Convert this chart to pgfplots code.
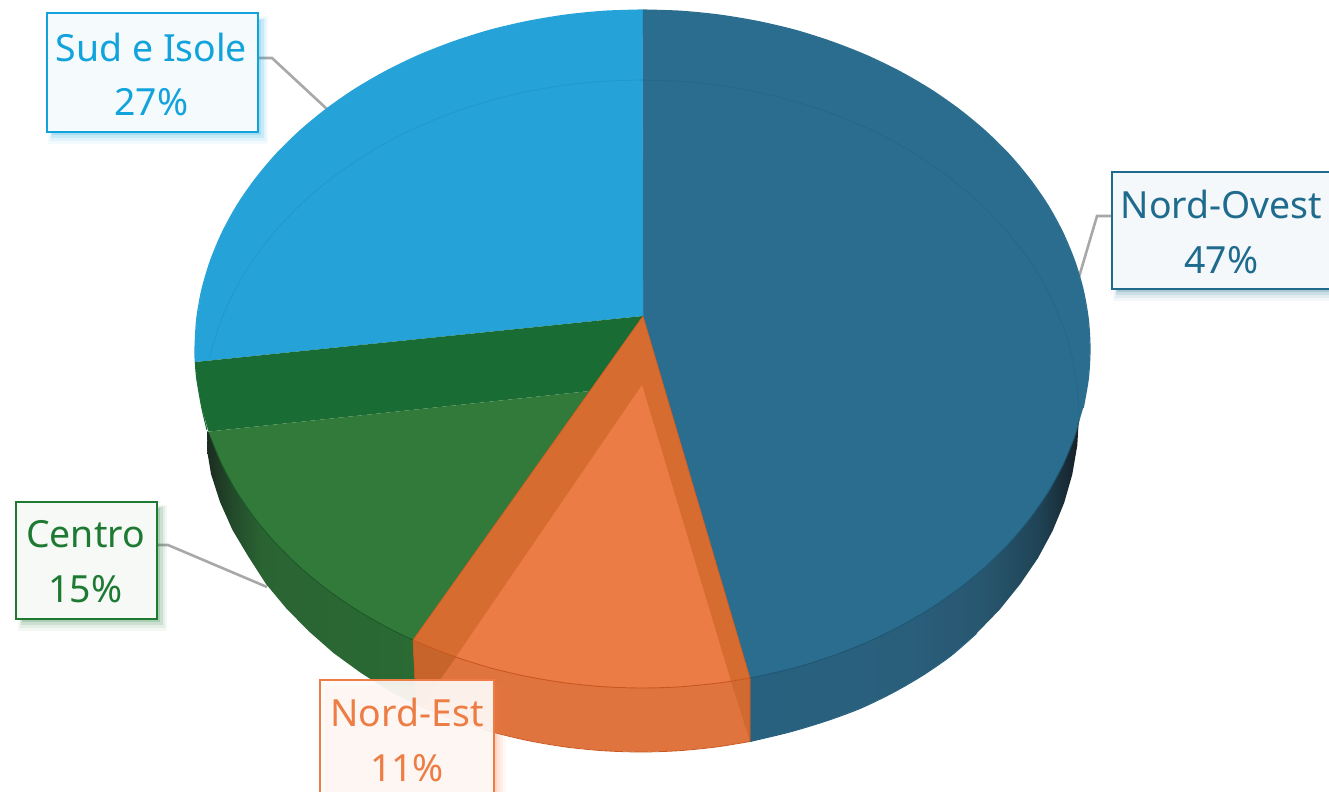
\documentclass[border=0pt]{standalone}
\usepackage{pgfplots}
\pgfplotsset{compat=1.18}
\usepackage{fontspec}
\setmainfont{Noto Sans}
\definecolor{nwtop}{HTML}{2B6D8E}
\definecolor{nwrim}{HTML}{1F5672}
\definecolor{nwin}{HTML}{27688A}
\definecolor{stop}{HTML}{25A3D8}
\definecolor{sin}{HTML}{2199CE}
\definecolor{gdark}{HTML}{196C33}
\definecolor{gtop}{HTML}{327A3A}
\definecolor{grim}{HTML}{1C5A2A}
\definecolor{ostrip}{HTML}{D66C2F}
\definecolor{otop}{HTML}{EC7C45}
\definecolor{oside}{HTML}{E0743F}
\definecolor{owl}{HTML}{C6642B}
\definecolor{owr}{HTML}{D06A30}
\definecolor{orim}{HTML}{C9571F}
\definecolor{lead}{HTML}{A8A8A8}
\definecolor{nwa}{HTML}{28617F}
\definecolor{nwb}{HTML}{2A5F7C}
\definecolor{nwc}{HTML}{28566F}
\definecolor{nwe}{HTML}{1F4355}
\definecolor{nwd}{HTML}{161F26}
\definecolor{ga}{HTML}{1B2C20}
\definecolor{gb}{HTML}{234A2A}
\definecolor{gc}{HTML}{2A6433}
\definecolor{gd}{HTML}{2A6A33}
\definecolor{bs}{HTML}{12A3DC}
\definecolor{bn}{HTML}{1F6B8E}
\definecolor{bc}{HTML}{1E7A33}
\definecolor{be}{HTML}{ED7D45}
\definecolor{fs}{HTML}{F5FAFD}
\definecolor{fn}{HTML}{F4F8FA}
\definecolor{fc}{HTML}{F6F9F6}
\definecolor{fe}{HTML}{FEFAF7}
\pgfdeclarehorizontalshading{nwside}{100bp}{color(0bp)=(nwa); color(25bp)=(nwa); color(47.8bp)=(nwb); color(60.7bp)=(nwc); color(69bp)=(nwe); color(75bp)=(nwd); color(100bp)=(nwd)}
\pgfdeclarehorizontalshading{gside}{100bp}{color(0bp)=(ga); color(25bp)=(ga); color(31bp)=(gb); color(38bp)=(gc); color(75bp)=(gd); color(100bp)=(gd)}
\begin{document}
\begin{tikzpicture}
\path[use as bounding box] (0,0) rectangle (664.5pt,396pt);
\begin{axis}[at={(0,0)},anchor=south west,width=664.5pt,height=396pt,scale only axis,hide axis,
  xmin=0,xmax=1329,ymin=0,ymax=792,y dir=reverse,no markers]
% leaders
\addplot[lead,line width=1.3pt] coordinates {(258,58)(272,58)(328,110)};
\addplot[lead,line width=1.3pt] coordinates {(1112,216)(1097,216)(1079,277)};
\addplot[lead,line width=1.3pt] coordinates {(157,545)(168,545)(267,587)};
% sides
\addplot[draw=none,shade,shading=nwside] coordinates {(750,678)(750,741.5)(754.4,740.5)(790.8,731.7)(826.1,721)(860,708.5)(892.2,693)(922.5,675.5)(950.7,656)(976.5,633.5)(999.8,609.5)(1020.3,584)(1038,558)(1052.6,530.9)(1064.1,503)(1072.3,474.3)(1077.3,445.3)(1079,416)} --cycle;
\addplot[draw=none,shade,shading=gside] coordinates {(413,640)(418,705.5)(389.8,691.3)(361,673)(333.5,653)(308.5,631)(286,608)(266,584)(248,556)(232.5,530)(220,502)(211,474)(207,450)(207.5,431)} --cycle;
% orange side base with wall patches
\addplot[fill=oside,draw=none] coordinates {(750,678)(750,741.5)(717,746.9)(679.2,750.7)(641,752)(602.8,750.7)(565,746.9)(527.6,740.5)(491.2,731.7)(455.9,720.5)(422,707)(416,703)(413,640)(418.7,642.6)(453.4,656.2)(489.4,667.6)(526.7,676.4)(564.8,682.8)(603.5,686.7)(642.5,688)(681.5,686.7)(720.2,682.8)} --cycle;
\addplot[fill=owl,draw=none] coordinates {(413,640)(418.7,642.6)(456,657)(421,707)(416,703)} --cycle;
\addplot[fill=owr,draw=none] coordinates {(750,678)(731,681.5)(750,741.5)} --cycle;
\addplot[orim,line width=.4pt,smooth] coordinates {(750,741.5)(717,746.9)(679.2,750.7)(641,752)(602.8,750.7)(565,746.9)(527.6,740.5)(491.2,731.7)(455.9,720.5)(422,707)};
\addplot[nwa,line width=.5pt,smooth] coordinates {(750,741.5)(754.4,740.5)(790.8,731.7)(826.1,721)(860,708.5)(892.2,693)(922.5,675.5)(950.7,656)(976.5,633.5)};
% top faces
\addplot[fill=nwtop,draw=none] coordinates {(643,316)(642.5,10)(681.5,11.3)(720.2,15.2)(758.3,21.6)(795.6,30.4)(831.6,41.8)(866.3,55.4)(899.2,71.3)(930.2,89.3)(958.9,109.3)(985.3,131.1)(1009.1,154.5)(1030,179.5)(1048.1,205.7)(1063,233.1)(1074.7,261.3)(1083.2,290.1)(1088.3,319.4)(1090,349)(1088.3,378.6)(1083.2,407.9)(1074.7,436.7)(1063,464.9)(1048.1,492.3)(1030,518.5)(1009.1,543.5)(985.3,566.9)(958.9,588.7)(930.2,608.7)(899.2,626.7)(866.3,642.6)(831.6,656.2)(795.6,667.6)(758.3,676.4)(750,678)} --cycle;
\addplot[nwtop,line width=.6pt,smooth] coordinates {(642.5,10)(681.5,11.3)(720.2,15.2)(758.3,21.6)(795.6,30.4)(831.6,41.8)(866.3,55.4)(899.2,71.3)(930.2,89.3)(958.9,109.3)(985.3,131.1)(1009.1,154.5)(1030,179.5)(1048.1,205.7)(1063,233.1)(1074.7,261.3)(1083.2,290.1)(1088.3,319.4)(1090,349)(1088.3,378.6)(1083.2,407.9)};
\addplot[fill=stop,draw=none] coordinates {(643,316)(195.3,362)(195,349)(196.7,319.4)(201.8,290.1)(210.3,261.3)(222,233.1)(236.9,205.7)(255,179.5)(275.9,154.5)(299.7,131.1)(326.1,109.3)(354.8,89.3)(385.8,71.3)(418.7,55.4)(453.4,41.8)(489.4,30.4)(526.7,21.6)(564.8,15.2)(603.5,11.3)(642.5,10)} --cycle;
\addplot[stop,line width=.6pt,smooth] coordinates {(195.3,362)(195,349)(196.7,319.4)(201.8,290.1)(210.3,261.3)(222,233.1)(236.9,205.7)(255,179.5)(275.9,154.5)(299.7,131.1)(326.1,109.3)(354.8,89.3)(385.8,71.3)(418.7,55.4)(453.4,41.8)(489.4,30.4)(526.7,21.6)(564.8,15.2)(603.5,11.3)(642.5,10)};
\addplot[fill=gdark,draw=none] coordinates {(643,316)(195.3,362)(196.7,378.6)(201.8,407.9)(208.5,431.6)(590,391)} --cycle;
\addplot[gdark,line width=.5pt,smooth] coordinates {(195.3,362)(196.7,378.6)(201.8,407.9)(207,430)};
\addplot[fill=gtop,draw=none] coordinates {(590,391)(208.5,431.6)(210.3,436.7)(222,464.9)(236.9,492.3)(255,518.5)(275.9,543.5)(299.7,566.9)(326.1,588.7)(354.8,608.7)(385.8,626.7)(413,640)} --cycle;
\addplot[fill=ostrip,draw=none] coordinates {(643,316)(750,678)(720.2,682.8)(681.5,686.7)(642.5,688)(603.5,686.7)(564.8,682.8)(526.7,676.4)(489.4,667.6)(453.4,656.2)(418.7,642.6)(413,640)} --cycle;
\addplot[fill=otop,draw=none] coordinates {(642,385)(731,681.5)(720.2,682.8)(681.5,686.7)(642.5,688)(603.5,686.7)(564.8,682.8)(526.7,676.4)(489.4,667.6)(456,657)} --cycle;
% floor ellipse seen through the top
\addplot[nwin,line width=.45pt,smooth] coordinates {(641,80)(679.2,81.3)(717,85.1)(754.4,91.5)(790.8,100.3)(826.1,111.5)(860,125)(892.2,140.7)(922.5,158.6)(950.7,178.4)(976.5,200)(999.8,223.3)(1020.3,248)(1038,274)(1052.6,301.1)(1064.1,329)(1072.3,357.7)(1077.3,386.7)(1079,416)};
\addplot[sin,line width=.45pt,smooth] coordinates {(209.7,357.7)(217.9,329)(229.4,301.1)(244,274)(261.7,248)(282.2,223.3)(305.5,200)(331.3,178.4)(359.5,158.6)(389.8,140.7)(422,125)(455.9,111.5)(491.2,100.3)(527.6,91.5)(565,85.1)(602.8,81.3)(641,80)};
% rims
\addplot[nwrim,line width=.45pt,smooth] coordinates {(1079,420)(1074.7,436.7)(1063,464.9)(1048.1,492.3)(1030,518.5)(1009.1,543.5)(985.3,566.9)(958.9,588.7)(930.2,608.7)(899.2,626.7)(866.3,642.6)(831.6,656.2)(795.6,667.6)(758.3,676.4)(750,678)};
\addplot[grim,line width=.45pt,smooth] coordinates {(210.3,436.7)(222,464.9)(236.9,492.3)(255,518.5)(275.9,543.5)(299.7,566.9)(326.1,588.7)(354.8,608.7)(385.8,626.7)(413,640)};
\addplot[orim,line width=.45pt,smooth] coordinates {(750,678)(720.2,682.8)(681.5,686.7)(642.5,688)(603.5,686.7)(564.8,682.8)(526.7,676.4)(489.4,667.6)(453.4,656.2)(418.7,642.6)(413,640)};
\addplot[orim,line width=.3pt] coordinates {(643,316)(750,678)(750,741.5)};
\addplot[orim,line width=.3pt] coordinates {(643,316)(413,640)(416,703)};
\addplot[sin,line width=.3pt] coordinates {(642.5,10)(643,316)};
% label shadows
\addplot[fill=bs,fill opacity=.05,draw=none] coordinates {(48,16)(268,16)(268,144)(48,144)} --cycle;
\addplot[fill=bs,fill opacity=.08,draw=none] coordinates {(50,18)(266,18)(266,141)(50,141)} --cycle;
\addplot[fill=bs,fill opacity=.12,draw=none] coordinates {(51,19)(264,19)(264,138)(51,138)} --cycle;
\addplot[fill=bs,fill opacity=.18,draw=none] coordinates {(52,20)(261,20)(261,135)(52,135)} --cycle;
\addplot[fill=bn,fill opacity=.05,draw=none] coordinates {(1113,178)(1329,178)(1329,301)(1113,301)} --cycle;
\addplot[fill=bn,fill opacity=.08,draw=none] coordinates {(1115,180)(1329,180)(1329,298)(1115,298)} --cycle;
\addplot[fill=bn,fill opacity=.12,draw=none] coordinates {(1116,180)(1329,180)(1329,295)(1116,295)} --cycle;
\addplot[fill=bn,fill opacity=.18,draw=none] coordinates {(1117,180)(1329,180)(1329,292)(1117,292)} --cycle;
\addplot[fill=bc,fill opacity=.05,draw=none] coordinates {(18,505)(167,505)(167,631)(18,631)} --cycle;
\addplot[fill=bc,fill opacity=.08,draw=none] coordinates {(20,506)(165,506)(165,628)(20,628)} --cycle;
\addplot[fill=bc,fill opacity=.12,draw=none] coordinates {(21,507)(163,507)(163,625)(21,625)} --cycle;
\addplot[fill=bc,fill opacity=.18,draw=none] coordinates {(22,508)(160,508)(160,622)(22,622)} --cycle;
\addplot[fill=be,fill opacity=.05,draw=none] coordinates {(325,686)(506,686)(506,792)(325,792)} --cycle;
\addplot[fill=be,fill opacity=.08,draw=none] coordinates {(325,686)(503,686)(503,792)(325,792)} --cycle;
\addplot[fill=be,fill opacity=.10,draw=none] coordinates {(325,686)(500,686)(500,792)(325,792)} --cycle;
\addplot[fill=be,fill opacity=.14,draw=none] coordinates {(325,686)(497,686)(497,792)(325,792)} --cycle;
% label boxes
\addplot[fill=fs,draw=none] coordinates {(47,13)(258,13)(258,132)(47,132)} --cycle;
\addplot[draw=bs,line width=1.45pt] coordinates {(47,13)(258,13)(258,132)(47,132)} --cycle;
\addplot[fill=fn,draw=none] coordinates {(1112,172)(1340,172)(1340,289)(1112,289)} --cycle;
\addplot[draw=bn,line width=1.45pt] coordinates {(1112,172)(1340,172)(1340,289)(1112,289)} --cycle;
\addplot[fill=fc,draw=none] coordinates {(16,502)(157,502)(157,619)(16,619)} --cycle;
\addplot[draw=bc,line width=1.45pt] coordinates {(16,502)(157,502)(157,619)(16,619)} --cycle;
\addplot[fill=fe,fill opacity=.93,draw=none] coordinates {(320,680)(494,680)(494,800)(320,800)} --cycle;
\addplot[draw=be,line width=1.45pt] coordinates {(320,680)(494,680)(494,800)(320,800)} --cycle;
% label text
\node[text=bs,font=\fontsize{18.7pt}{20pt}\selectfont,anchor=center] at (axis cs:151.5,47) {Sud e Isole};
\node[text=bs,font=\fontsize{18.7pt}{20pt}\selectfont,anchor=center] at (axis cs:151.5,102) {27\%};
\node[text=bn,font=\fontsize{18.7pt}{20pt}\selectfont,anchor=center] at (axis cs:1221.5,204) {Nord-Ovest};
\node[text=bn,font=\fontsize{18.7pt}{20pt}\selectfont,anchor=center] at (axis cs:1221.5,260) {47\%};
\node[text=bc,font=\fontsize{18.7pt}{20pt}\selectfont,anchor=center] at (axis cs:85.5,534) {Centro};
\node[text=bc,font=\fontsize{18.7pt}{20pt}\selectfont,anchor=center] at (axis cs:85.5,589) {15\%};
\node[text=be,font=\fontsize{18.7pt}{20pt}\selectfont,anchor=center] at (axis cs:407,712) {Nord-Est};
\node[text=be,font=\fontsize{18.7pt}{20pt}\selectfont,anchor=center] at (axis cs:407,768) {11\%};
\end{axis}
\end{tikzpicture}
\end{document}
